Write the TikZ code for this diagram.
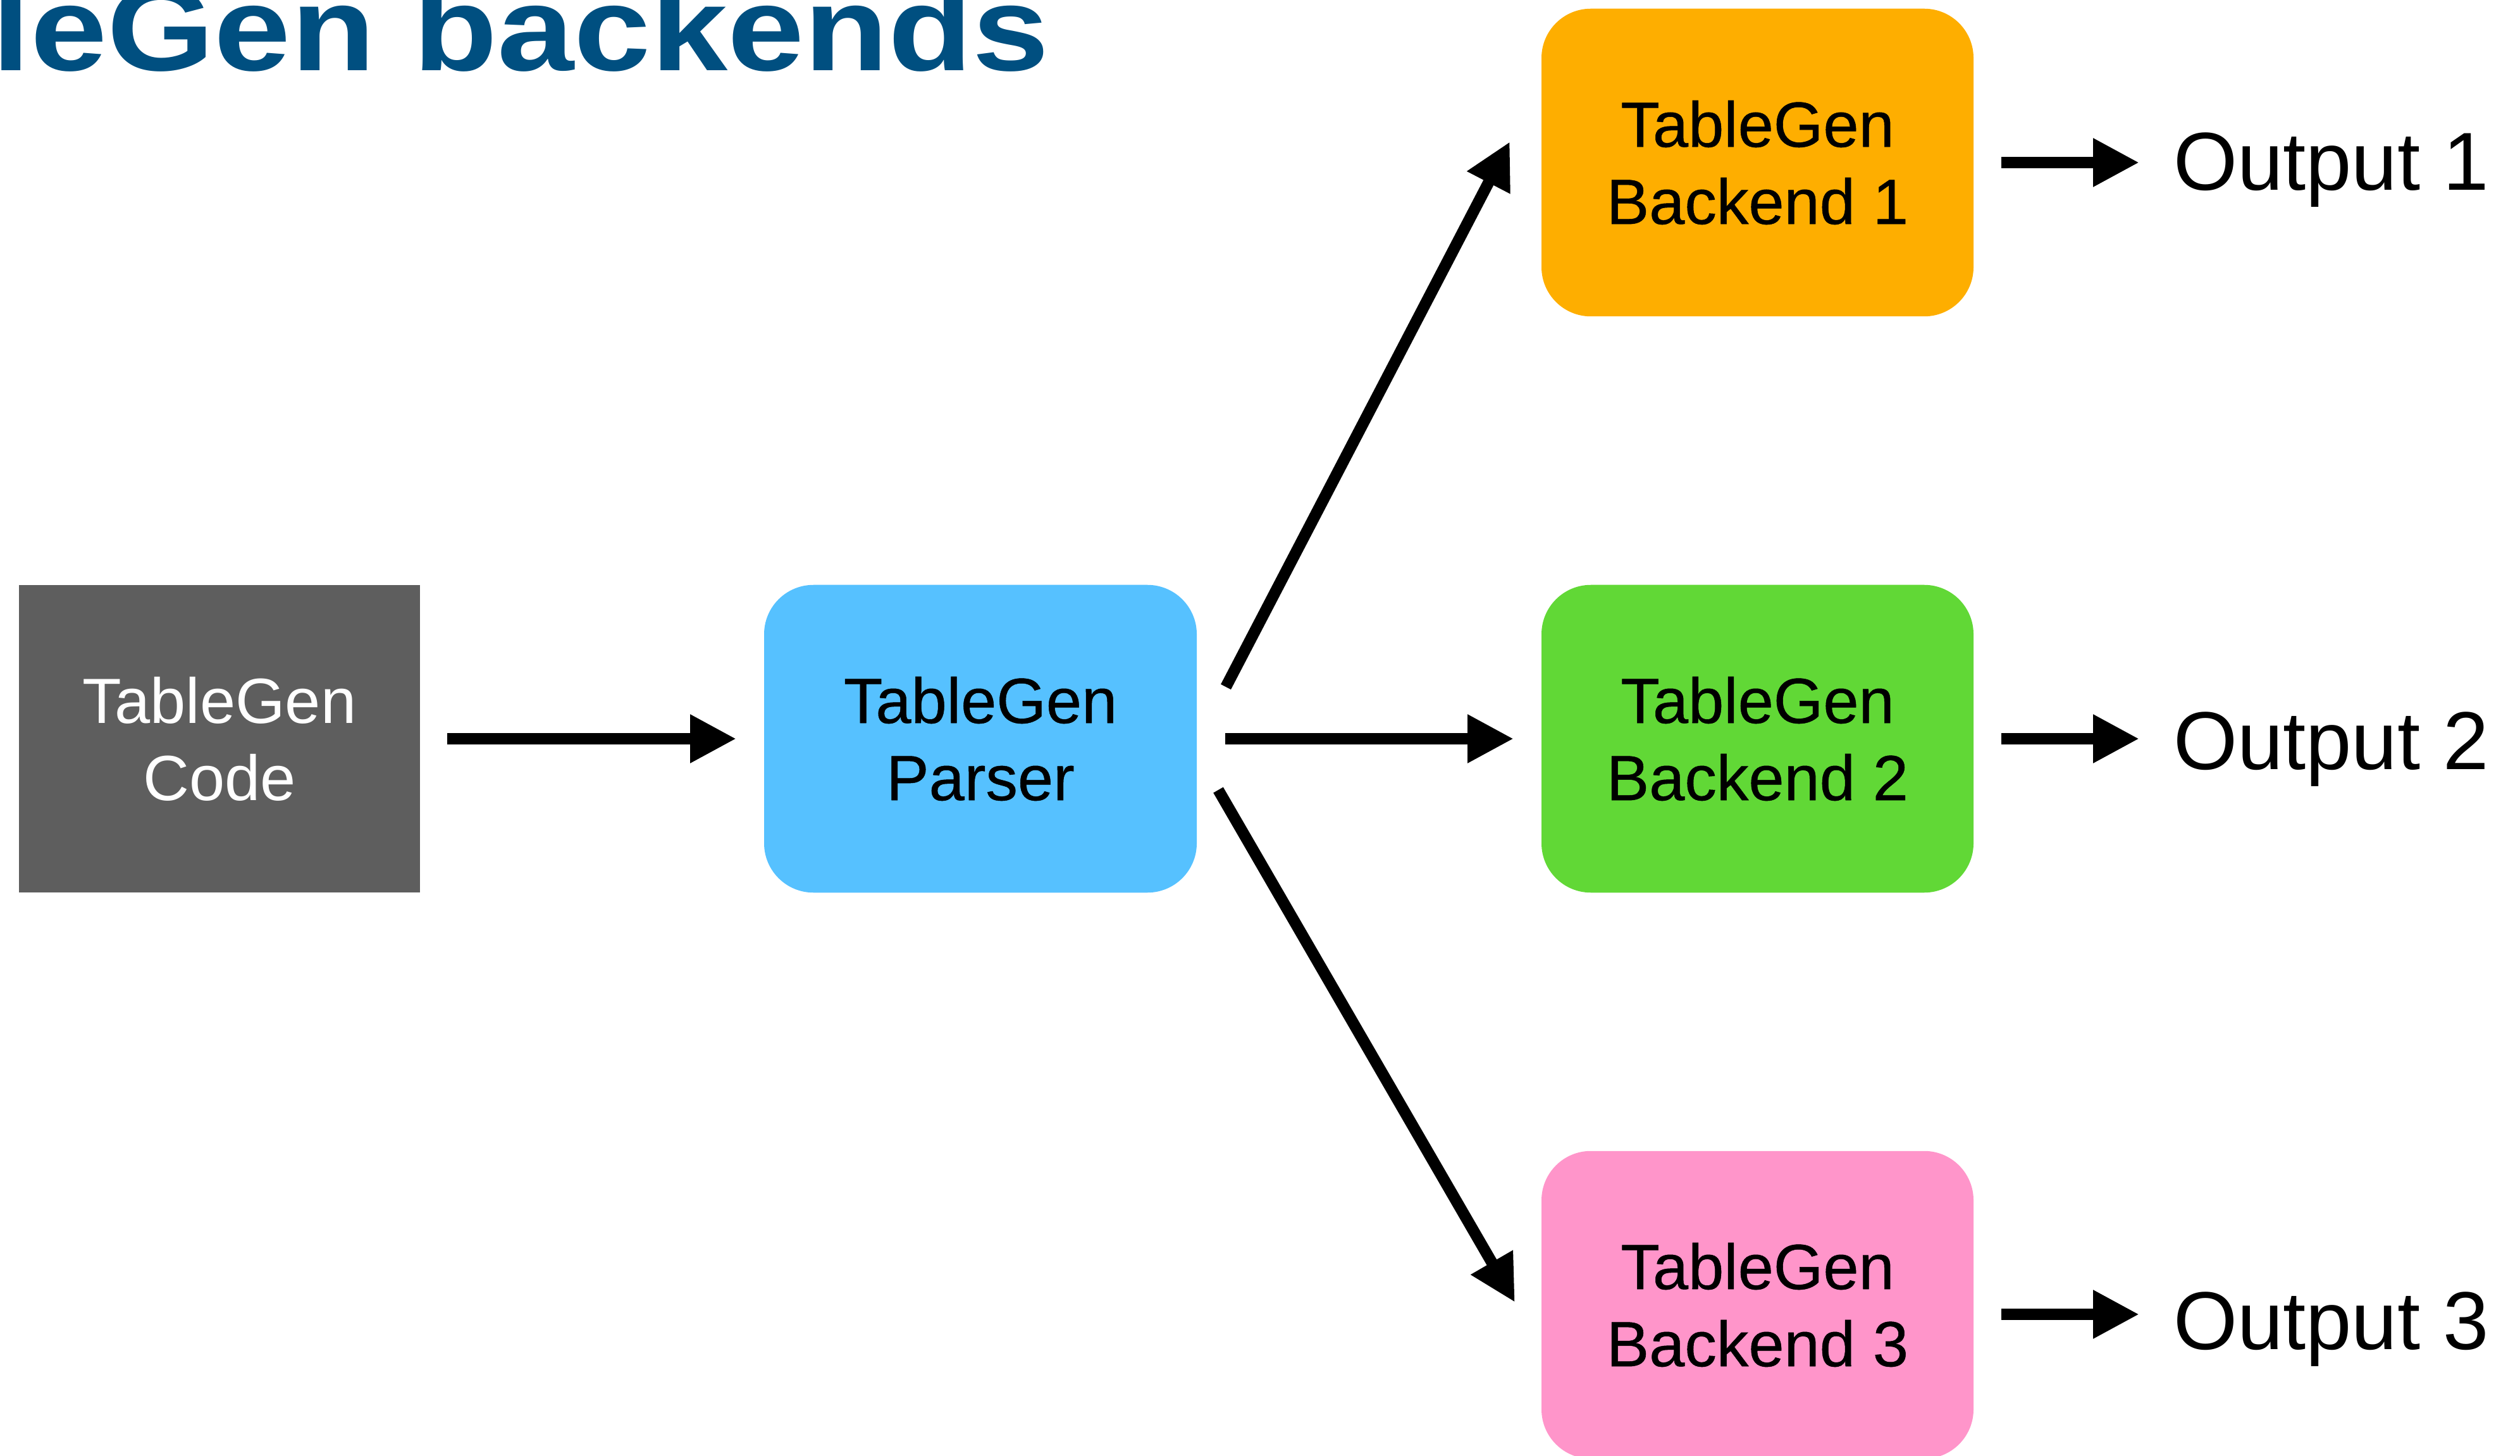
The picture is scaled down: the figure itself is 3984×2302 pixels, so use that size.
\documentclass[tikz,border=0pt]{standalone}
\usepackage{fontspec}
\usepackage{graphicx}
\setmainfont{Liberation Sans}
\newfontfamily\medfont{Liberation Sans}[FakeBold=0.5]
\usetikzlibrary{arrows.meta,calc}
\definecolor{tggray}{HTML}{5E5E5E}
\definecolor{tgblue}{HTML}{56C1FF}
\definecolor{tgorange}{HTML}{FEAE00}
\definecolor{tggreen}{HTML}{61D836}
\definecolor{tgpink}{HTML}{FF95CA}
\definecolor{tgtitle}{HTML}{004F80}
\begin{document}
\begin{tikzpicture}[x=0.2pt,y=-0.2pt,
  box/.style={inner sep=0pt, minimum width=136.6pt, minimum height=97.3pt,
    align=center, font=\fontsize{20.2pt}{24.4pt}\selectfont},
  rbox/.style={box, rounded corners=15.6pt, font=\fontsize{20.2pt}{24.4pt}\medfont},
  outtext/.style={inner sep=0pt, font=\fontsize{26pt}{30pt}\selectfont},
  titletext/.style={inner sep=0pt, text=tgtitle, font=\fontsize{38pt}{40pt}\selectfont\bfseries},
  arr/.style={line width=3.6pt, -{Triangle[length=14.6pt,width=14.4pt]}}]
\useasboundingbox (0,0) rectangle (3984,2302);
\clip (0,0) rectangle (3984,2302);

% title (cropped at the left and top in the reference)
\node[titletext, anchor=base east] (ttl) at (1660,112) {\scalebox{1.147}[1]{TableGen backends}};

% boxes
\node[box, fill=tggray, text=white, minimum width=126.8pt] (code) at (347,1168) {TableGen\\Code};
\node[rbox, fill=tgblue, minimum width=136.8pt] (parser) at (1550,1168) {TableGen\\Parser};
\node[rbox, fill=tgorange] (b1) at (2778.5,257) {TableGen\\Backend 1};
\node[rbox, fill=tggreen] (b2) at (2778.5,1168) {TableGen\\Backend 2};
\node[rbox, fill=tgpink] (b3) at (2778.5,2063) {TableGen\\Backend 3};

% outputs
\node[outtext, anchor=base west] (o1) at (3435,301) {Output 1};
\node[outtext, anchor=base west] (o2) at (3435,1216) {Output 2};
\node[outtext, anchor=base west] (o3) at (3435,2133) {Output 3};

% connectors
\draw[arr, shorten <=8.4pt, shorten >=8.6pt] (code.east) -- (parser.west);
\draw[arr, shorten <=8.8pt, shorten >=8.6pt] (parser.east) -- (b2.west);
\coordinate (u0) at ($(parser.east)+(45,-82)$);
\coordinate (u1) at ($(b1.west)+(-49,-33)$);
\draw[arr] (u0) -- (u1);
\coordinate (d0) at ($(parser.east)+(33,81)$);
\coordinate (d1) at ($(b3.west)+(-41,-4)$);
\draw[arr] (d0) -- (d1);
\draw[arr, shorten <=8.6pt, shorten >=10.6pt] (b1.east) -- (b1.east -| o1.west);
\draw[arr, shorten <=8.6pt, shorten >=10.6pt] (b2.east) -- (b2.east -| o2.west);
\coordinate (b3out) at ($(b3.east)+(0,15)$);
\draw[arr, shorten <=8.6pt, shorten >=10.6pt] (b3out) -- (b3out -| o3.west);
\end{tikzpicture}
\end{document}
